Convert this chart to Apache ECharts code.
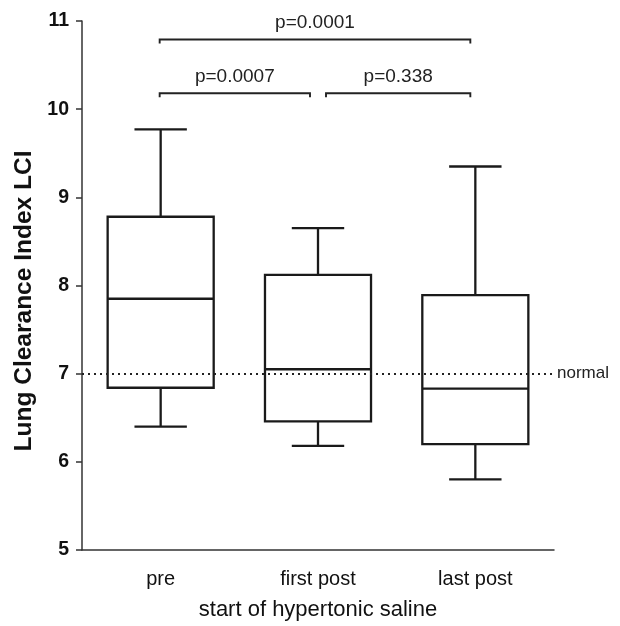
<!DOCTYPE html>
<html>
<head>
<meta charset="utf-8">
<script src="https://cdn.jsdelivr.net/npm/echarts@6/dist/echarts.min.js"></script>
<style>
html,body{margin:0;padding:0;background:#fff;}
#chart{width:620px;height:626px;}
</style>
</head>
<body>
<div id="chart"></div>
<script>
// ---- data ----
const categories = ['pre', 'first post', 'last post'];
const whiskerLow  = [6.40, 6.18, 5.80];
const q1          = [6.84, 6.46, 6.20];
const median      = [7.85, 7.05, 6.83];
const q3          = [8.78, 8.12, 7.89];
const whiskerHigh = [9.77, 8.65, 9.35];
const normalLCI = 7;
const yTicks = [5, 6, 7, 8, 9, 10, 11];
// comparisons: [from category index, to category index, bracket level (LCI units)]
const bracketFrom  = [0, 1, 0];
const bracketTo    = [1, 2, 2];
const bracketLevel = [10.18, 10.18, 10.79];
const pLabels = ['p=0.0007', 'p=0.338', 'p=0.0001'];
const yTitle = 'Lung Clearance Index LCI';
const xTitle = 'start of hypertonic saline';

const FONT = '"Liberation Sans", Arial, Helvetica, sans-serif';
const INK = '#1a1a1a';

const boxData = categories.map((c, i) => [i, whiskerLow[i], q1[i], median[i], q3[i], whiskerHigh[i]]);
const bracketData = bracketFrom.map((f, i) => [f, bracketTo[i], bracketLevel[i], i]);

function renderBox(params, api) {
  const x = api.value(0);
  const band = api.size([1, 0])[0];
  const bw = band * 0.674 / 2;
  const cw = band * 0.333 / 2;
  const pLo = api.coord([x, api.value(1)]);
  const pQ1 = api.coord([x, api.value(2)]);
  const pMd = api.coord([x, api.value(3)]);
  const pQ3 = api.coord([x, api.value(4)]);
  const pHi = api.coord([x, api.value(5)]);
  const cx = pMd[0];
  const st = { stroke: INK, lineWidth: 2.3, fill: null };
  return {
    type: 'group',
    children: [
      { type: 'line', shape: { x1: cx, y1: pHi[1], x2: cx, y2: pQ3[1] }, style: st },
      { type: 'line', shape: { x1: cx - cw, y1: pHi[1], x2: cx + cw, y2: pHi[1] }, style: st },
      { type: 'line', shape: { x1: cx, y1: pQ1[1], x2: cx, y2: pLo[1] }, style: st },
      { type: 'line', shape: { x1: cx - cw, y1: pLo[1], x2: cx + cw, y2: pLo[1] }, style: st },
      { type: 'rect', shape: { x: cx - bw, y: pQ3[1], width: 2 * bw, height: pQ1[1] - pQ3[1] }, style: { stroke: INK, lineWidth: 2.3, fill: '#fff' } },
      { type: 'line', shape: { x1: cx - bw, y1: pMd[1], x2: cx + bw, y2: pMd[1] }, style: st }
    ]
  };
}

function renderBracket(params, api) {
  const f = api.value(0), t = api.value(1), lvl = api.value(2), idx = api.value(3);
  const p0 = api.coord([f, lvl]);
  const p1 = api.coord([t, lvl]);
  // step back where two brackets on the same level meet
  const meetsEnd = bracketFrom.some((ff, j) => ff === t && bracketLevel[j] === lvl);
  const meetsStart = bracketTo.some((tt, j) => tt === f && bracketLevel[j] === lvl);
  const x0 = p0[0] + (meetsStart ? 8 : -1);
  const x1 = p1[0] - (meetsEnd ? 8 : 5);
  const y = p0[1];
  return {
    type: 'group',
    children: [
      { type: 'polyline', shape: { points: [[x0, y + 4], [x0, y], [x1, y], [x1, y + 4]] },
        style: { stroke: '#222', lineWidth: 1.9, fill: null } },
      { type: 'text', style: { text: pLabels[idx], x: (x0 + x1) / 2, y: y - 7,
        textAlign: 'center', textVerticalAlign: 'bottom', font: '19px ' + FONT, fill: '#222' } }
    ]
  };
}

const chart = echarts.init(document.getElementById('chart'), null, { renderer: 'canvas' });
chart.setOption({
  animation: false,
  backgroundColor: '#fff',
  grid: { left: 82, right: 66, top: 21, bottom: 68, containLabel: false },
  graphic: [
    { type: 'text', x: 24, y: 301, rotation: Math.PI / 2,
      style: { text: yTitle, textAlign: 'center', textVerticalAlign: 'middle',
               font: 'bold 24.5px ' + FONT, fill: '#111' } }
  ],
  xAxis: {
    type: 'category',
    data: categories,
    boundaryGap: true,
    name: xTitle,
    nameLocation: 'middle',
    nameGap: 49,
    nameTextStyle: { fontFamily: FONT, fontSize: 22, color: '#111' },
    axisLine: { lineStyle: { color: '#333', width: 1.5 } },
    axisTick: { alignWithLabel: true, length: 6, lineStyle: { color: '#333', width: 1.5 } },
    axisLabel: { fontFamily: FONT, fontSize: 20, color: '#111', margin: 19 },
    splitLine: { show: false }
  },
  yAxis: {
    type: 'value',
    min: yTicks[0],
    max: yTicks[yTicks.length - 1],
    interval: 1,
    axisLine: { show: true, lineStyle: { color: '#333', width: 1.5 } },
    axisTick: { show: true, length: 6, lineStyle: { color: '#333', width: 1.5 } },
    axisLabel: { fontFamily: FONT, fontSize: 19.5, fontWeight: 'bold', color: '#111', margin: 13 },
    splitLine: { show: false }
  },
  series: [
    {
      type: 'custom',
      name: 'LCI',
      renderItem: renderBox,
      encode: { x: 0, y: [1, 2, 3, 4, 5] },
      data: boxData,
      z: 3,
      markLine: {
        silent: true,
        symbol: 'none',
        lineStyle: { type: [2, 4], color: '#222', width: 2 },
        label: { show: true, position: 'end', formatter: 'normal', distance: 3,
                 fontFamily: FONT, fontSize: 17, color: '#222' },
        data: [{ yAxis: normalLCI }]
      }
    },
    {
      type: 'custom',
      name: 'brackets',
      renderItem: renderBracket,
      encode: { x: [0, 1], y: 2 },
      data: bracketData,
      z: 4
    }
  ]
});
</script>
</body>
</html>
